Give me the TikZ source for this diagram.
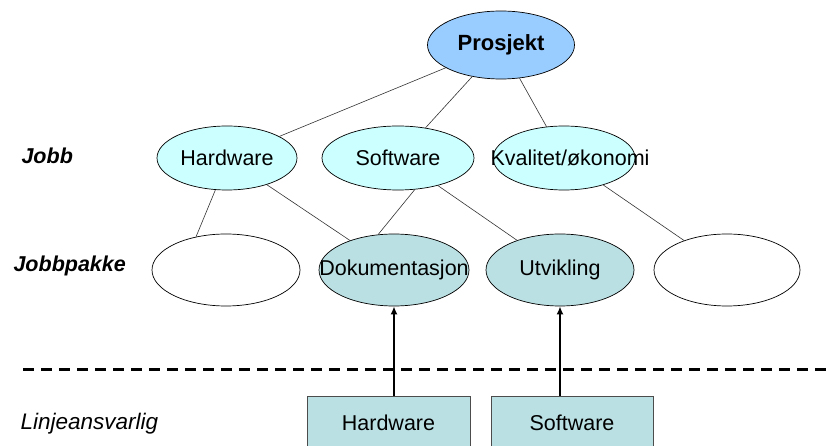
\documentclass[tikz,border=0pt]{standalone}
\usepackage{fontspec}
\setmainfont{Liberation Sans}
\definecolor{prblue}{HTML}{99CCFF}
\definecolor{prcyan}{HTML}{CCFFFF}
\definecolor{prteal}{HTML}{BBE0E3}
\usetikzlibrary{arrows.meta, positioning, shapes.geometric}

\begin{document}
\begin{tikzpicture}[x=1pt, y=-1pt,
  elli/.style={ellipse, draw=black, line width=0.7pt, inner sep=0pt,
               font=\fontsize{21.5}{24}\selectfont},
  lvl/.style={font=\fontsize{21.5}{24}\selectfont\bfseries\itshape, anchor=west},
  linje/.style={rectangle, draw=black!70, line width=0.7pt, fill=prteal,
                minimum height=52pt, font=\fontsize{21.5}{24}\selectfont},
  forb/.style={draw=black!80, line width=0.6pt},
  pil/.style={line width=1.6pt, -{Latex[length=8pt, width=7pt]}},
]
  \useasboundingbox (0,0) rectangle (828,446);
  \clip (0,0) rectangle (828,446);

  % Prosjekt
  \node[elli, fill=prblue, minimum width=147pt, minimum height=68pt,
        font=\fontsize{22}{24}\selectfont\bfseries] (prosjekt) at (501,45) {Prosjekt};

  % Jobb
  \node[lvl] (jobb) at (18,156) {Jobb};
  \node[elli, fill=prcyan, minimum width=140pt, minimum height=64pt] (hwjobb) at (227,158) {Hardware};
  \node[elli, fill=prcyan, minimum width=152pt, minimum height=64pt] (swjobb) at (398,158) {Software};
  \node[elli, fill=prcyan, minimum width=142pt, minimum height=64pt] (kvjobb) at (564,158) {};
  \node[font=\fontsize{21.5}{24}\selectfont] (kvtekst) at (570,158) {Kvalitet/økonomi};

  % Jobbpakke
  \node[lvl] (jobbpakke) at (10,266) {Jobbpakke};
  \node[elli, fill=white, minimum width=148pt, minimum height=72pt] (tom1) at (226,270) {};
  \node[elli, fill=prteal, minimum width=150pt, minimum height=72pt] (dok) at (394,270) {};
  \node[font=\fontsize{21.5}{24}\selectfont] (doktekst) at (394,270) {Dokumentasjon};
  \node[elli, fill=prteal, minimum width=148pt, minimum height=72pt] (utv) at (560,270) {Utvikling};
  \node[elli, fill=white, minimum width=146pt, minimum height=72pt] (tom2) at (727,270) {};

  % Linjeansvarlig
  \node[lvl, font=\fontsize{22.5}{24}\selectfont\itshape] (linjeansv) at (17,424) {Linjeansvarlig};
  \node[linje, minimum width=163pt] (hwlinje) at (388.5,422.5) {Hardware};
  \node[linje, minimum width=162pt] (swlinje) at (572,422.5) {Software};

  \draw[line width=3pt, dash pattern=on 11pt off 7pt] (23,370) -- (828,370);

  % Forbindelser
  \draw[forb] (prosjekt) -- (hwjobb);
  \draw[forb] (prosjekt) -- (swjobb);
  \draw[forb] (prosjekt) -- (kvjobb);
  \draw[forb] (hwjobb.-110) -- (tom1.132);
  \draw[forb] (hwjobb) -- (dok);
  \draw[forb] (swjobb.-62) -- (dok.114);
  \draw[forb] (swjobb) -- (utv);
  \draw[forb] (kvjobb) -- (tom2);

  \draw[pil] (dok.south |- hwlinje.north) -- (dok.south);
  \draw[pil] (utv.south |- swlinje.north) -- (utv.south);
\end{tikzpicture}
\end{document}
